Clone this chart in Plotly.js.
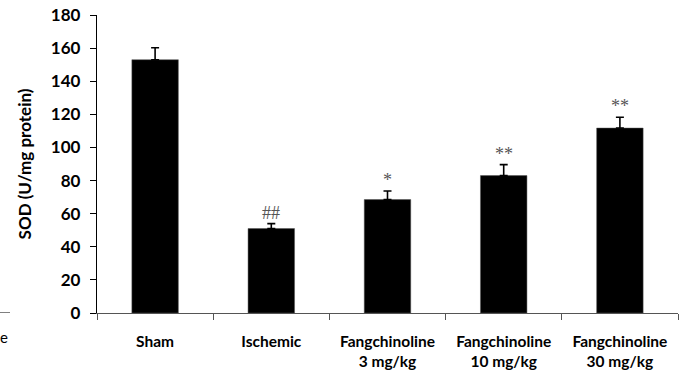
<!DOCTYPE html>
<html>
<head>
<meta charset="utf-8">
<script src="https://cdn.plot.ly/plotly-3.0.1.min.js"></script>
<style>html,body{margin:0;padding:0;background:#fff;}#chart{width:687px;height:380px;}</style>
</head>
<body>
<div id="chart"></div>
<script>
const categories = ['Sham', 'Ischemic', 'Fangchinoline<br>3 mg/kg', 'Fangchinoline<br>10 mg/kg', 'Fangchinoline<br>30 mg/kg'];
const sodValues = [153, 51, 68.5, 83, 111.7];
const sodErrors = [7.2, 3, 5.2, 6.6, 6.5];
const sigLabels = ['', '##', '*', '**', '**'];
const yTicks = [0, 20, 40, 60, 80, 100, 120, 140, 160, 180];

const trace = {
  type: 'bar',
  x: categories,
  y: sodValues,
  marker: {color: '#000000', line: {color: '#555', width: 0.5}},
  error_y: {type: 'data', array: sodErrors, arrayminus: sodErrors.map(() => 0), symmetric: false, color: '#000', thickness: 1.6, width: 4},
  hoverinfo: 'none'
};

const annotations = categories.map((c, i) => ({
  x: c, y: sodValues[i] + sodErrors[i], xref: 'x', yref: 'y',
  text: sigLabels[i], showarrow: false, yanchor: 'bottom', yshift: -1,
  font: {family: 'Liberation Serif, serif', size: 18, color: '#555'}
})).filter(a => a.text);

annotations.push({
  x: 0, y: -0.08, xref: 'paper', yref: 'paper', xanchor: 'left', yanchor: 'middle',
  text: 'e', showarrow: false, font: {family: 'Lato, sans-serif', size: 15, color: '#000'}, xshift: -99
});

const layout = {
  width: 687, height: 380,
  margin: {l: 97, r: 9, t: 15, b: 67},
  paper_bgcolor: '#fff', plot_bgcolor: '#fff',
  showlegend: false,
  bargap: 0.6,
  font: {family: 'Lato, sans-serif', color: '#000'},
  xaxis: {
    type: 'category', range: [-0.5, 4.5],
    showline: true, linecolor: '#555', linewidth: 1.2,
    ticks: 'outside', tickson: 'boundaries', ticklen: 6, tickcolor: '#555', tickwidth: 1,
    ticklabelstandoff: 14,
    showgrid: false, zeroline: false,
    tickfont: {family: 'Lato, sans-serif', size: 15.5, color: '#000', weight: 'bold'}
  },
  yaxis: {
    range: [0, 180], tickvals: yTicks, ticktext: yTicks.map(String),
    showline: true, linecolor: '#000', linewidth: 1.2,
    ticks: 'outside', ticklen: 6, tickcolor: '#000', tickwidth: 1,
    ticklabelstandoff: 6,
    showgrid: false, zeroline: false,
    tickfont: {family: 'Lato, sans-serif', size: 17, color: '#000', weight: 'bold'},
    title: {text: 'SOD (U/mg protein)', standoff: 14, font: {family: 'Lato, sans-serif', size: 17, color: '#000', weight: 'bold'}}
  },
  shapes: [{type: 'line', xref: 'paper', yref: 'y', x0: -97/581, x1: -87/581, y0: 0, y1: 0, line: {color: '#000', width: 1}}],
  annotations: annotations
};

Plotly.newPlot('chart', [trace], layout, {displayModeBar: false, staticPlot: true});
</script>
</body>
</html>
